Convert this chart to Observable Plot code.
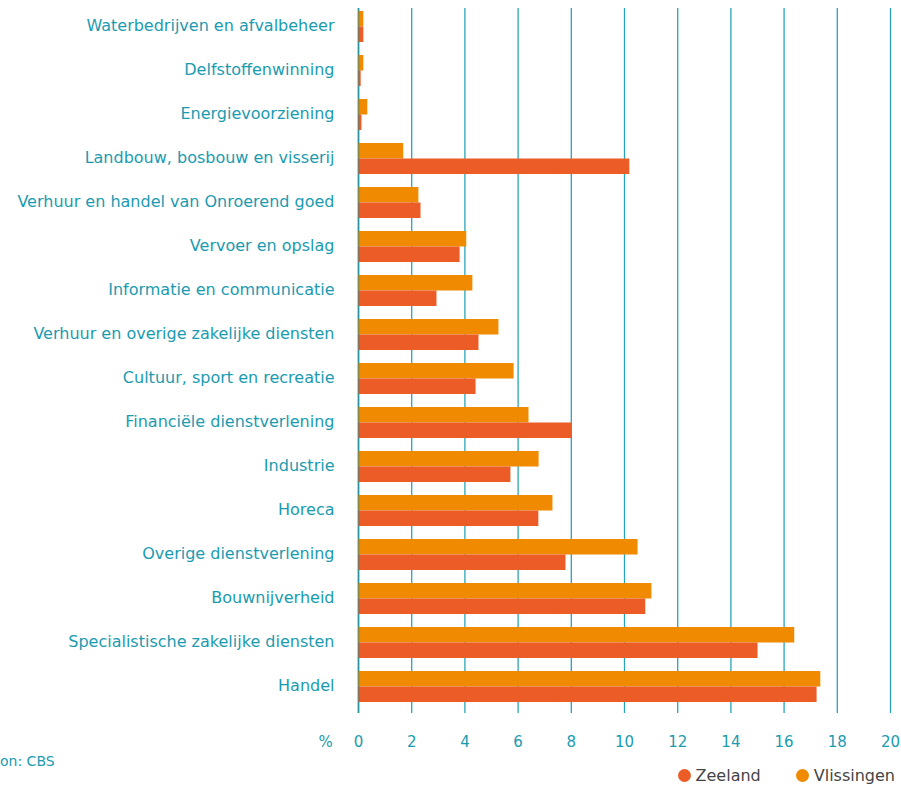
<!DOCTYPE html>
<html>
<head>
<meta charset="utf-8">
<script src="https://cdn.jsdelivr.net/npm/d3@7"></script>
<script src="https://cdn.jsdelivr.net/npm/@observablehq/plot@0.6"></script>
<style>
  html, body { margin: 0; padding: 0; background: #fff; }
  #wrap { position: relative; width: 901px; height: 785px; overflow: hidden; font-family: "DejaVu Sans", Verdana, sans-serif; }
  #caption { position: absolute; left: 0px; top: 753px; font-size: 14px; color: #1a9bb0; white-space: nowrap; }
  #legend { position: absolute; right: 6px; top: 766px; font-size: 16px; color: #444; white-space: nowrap; display: flex; align-items: center; }
  #legend .sw { display: inline-block; width: 13px; height: 13px; border-radius: 50%; margin-right: 5px; }
  #legend .item { display: inline-flex; align-items: center; margin-left: 35px; }
</style>
</head>
<body>
<div id="wrap">
  <div id="chart"></div>
  <div id="caption">on: CBS</div>
  <div id="legend"></div>
</div>
<script>
const categories = [
  "Waterbedrijven en afvalbeheer",
  "Delfstoffenwinning",
  "Energievoorziening",
  "Landbouw, bosbouw en visserij",
  "Verhuur en handel van Onroerend goed",
  "Vervoer en opslag",
  "Informatie en communicatie",
  "Verhuur en overige zakelijke diensten",
  "Cultuur, sport en recreatie",
  "Financiële dienstverlening",
  "Industrie",
  "Horeca",
  "Overige dienstverlening",
  "Bouwnijverheid",
  "Specialistische zakelijke diensten",
  "Handel"
];
const zeeland =    [0.2, 0.1, 0.13, 10.2, 2.35, 3.82, 2.95, 4.53, 4.42, 8.02, 5.73, 6.78, 7.8, 10.8, 15.02, 17.24];
const vlissingen = [0.2, 0.2, 0.35, 1.7, 2.27, 4.07, 4.3, 5.28, 5.85, 6.41, 6.79, 7.31, 10.51, 11.03, 16.4, 17.38];
const seriesNames = ["Zeeland", "Vlissingen"];
const seriesColors = ["#eb5c27", "#f08a00"];
const xTicks = [0, 2, 4, 6, 8, 10, 12, 14, 16, 18, 20];

const zData = categories.map((c, i) => ({cat: c, value: zeeland[i], series: "Zeeland"}));
const vData = categories.map((c, i) => ({cat: c, value: vlissingen[i], series: "Vlissingen"}));

const teal = "#1a9bb0";

const chart = Plot.plot({
  width: 901,
  height: 760,
  marginTop: 8,
  marginBottom: 47,
  marginLeft: 358,
  marginRight: 11,
  style: {fontFamily: "DejaVu Sans, Verdana, sans-serif", fontSize: "15px", background: "transparent"},
  x: {domain: [0, 20], ticks: xTicks},
  y: {domain: categories, range: [9, 704], paddingInner: 0.3, paddingOuter: 0},
  color: {domain: seriesNames, range: seriesColors},
  marks: [
    Plot.ruleX(xTicks, {stroke: "#2aa3b8", strokeWidth: 1.3}),
    Plot.barX(vData, {y: "cat", x: "value", fill: "series", insetBottom: 15.5}),
    Plot.barX(zData, {y: "cat", x: "value", fill: "series", insetTop: 15.5}),
    Plot.ruleX([0], {stroke: "#2a8a8a", strokeOpacity: 0.55, strokeWidth: 2}),
    Plot.axisY({tickSize: 0, tickPadding: 24, fill: teal, label: null, fontSize: 16, dy: -1}),
    Plot.axisX({tickSize: 0, tickPadding: 23, fill: teal, label: null, fontSize: 15, ticks: xTicks}),
    Plot.text(["%"], {frameAnchor: "bottom-left", dx: -40, dy: 33, fill: teal, fontSize: 15, text: d => d})
  ]
});
document.getElementById("chart").appendChild(chart);

const legend = document.getElementById("legend");
seriesNames.forEach((s, i) => {
  const item = document.createElement("span");
  item.className = "item";
  const sw = document.createElement("span");
  sw.className = "sw";
  sw.style.background = seriesColors[i];
  item.appendChild(sw);
  item.appendChild(document.createTextNode(s));
  legend.appendChild(item);
});
</script>
</body>
</html>
